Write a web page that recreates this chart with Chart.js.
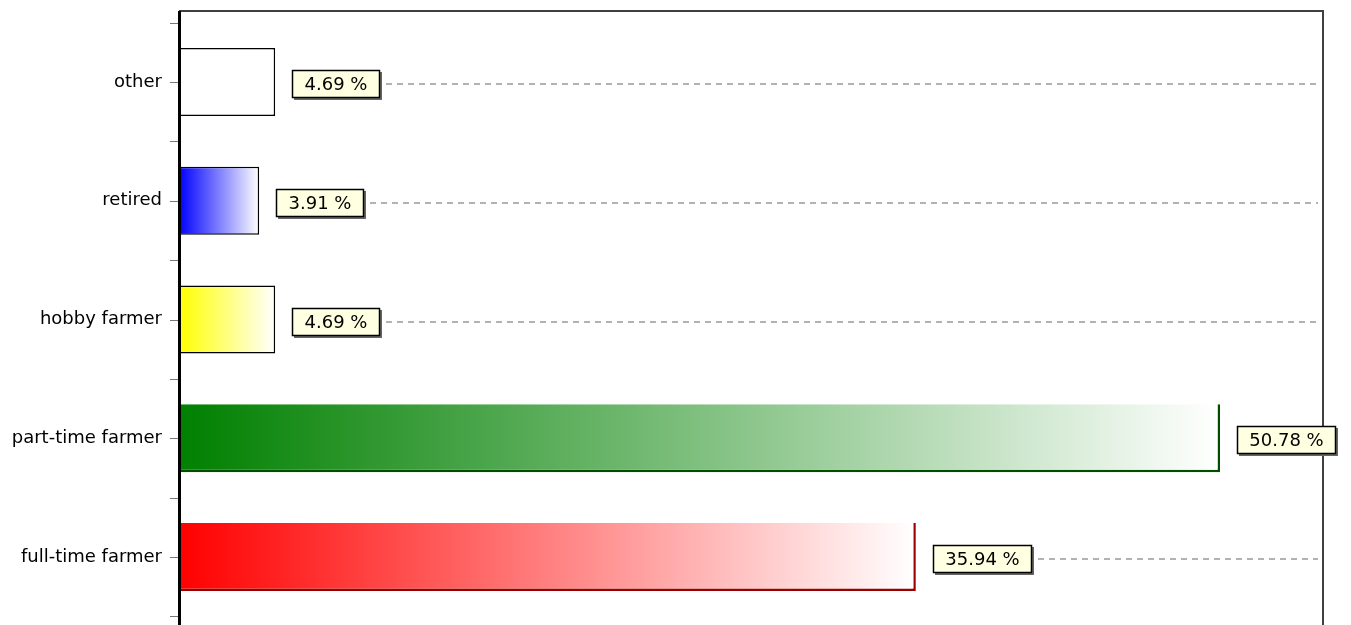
<!DOCTYPE html>
<html>
<head>
<meta charset="utf-8">
<script src="https://cdn.jsdelivr.net/npm/chart.js@4.4.1/dist/chart.umd.min.js"></script>
<style>
  html, body { margin: 0; padding: 0; background: #fff; overflow: hidden; }
  #wrap { width: 1351px; height: 625px; position: relative; }
</style>
</head>
<body>
<div id="wrap"><canvas id="myChart"></canvas></div>
<script>
const categories = ["other", "retired", "hobby farmer", "part-time farmer", "full-time farmer"];
const shares = [4.69, 3.91, 4.69, 50.78, 35.94];
const barColors = ["#ffffff", "#0000ff", "#ffff00", "#008000", "#ff0000"];
const edgeColors = ["#000000", "#000000", "#000000", "#004d00", "#9a0000"];
const xMax = 55.8;

const FONT = "DejaVu Sans";

// fades each bar from its colour to white at its own end
function fade(context) {
  const chart = context.chart;
  const i = context.dataIndex;
  if (!chart.chartArea || i === undefined) return barColors[i] || "#fff";
  const x = chart.scales.x;
  const x0 = x.getPixelForValue(0);
  const x1 = x.getPixelForValue(shares[i]);
  const g = chart.ctx.createLinearGradient(x0, 0, x1, 0);
  g.addColorStop(0, barColors[i]);
  g.addColorStop(1, "#ffffff");
  return g;
}

const framePlugin = {
  id: "frame",
  beforeDatasetsDraw(chart) {
    const { ctx, chartArea: a, scales: { y } } = chart;
    const top = a.top - 11.6;
    const bottom = a.bottom + 11.6;
    ctx.save();
    ctx.strokeStyle = "#404040";
    ctx.lineWidth = 2;
    ctx.beginPath();
    ctx.moveTo(a.left, top);
    ctx.lineTo(a.right, top);
    ctx.lineTo(a.right, bottom);
    ctx.stroke();
    // small ticks at band edges and centres
    const band = y.getPixelForValue(1) - y.getPixelForValue(0);
    ctx.strokeStyle = "#777";
    ctx.lineWidth = 1;
    ctx.beginPath();
    categories.forEach((c, i) => {
      const cy = y.getPixelForValue(i);
      [cy - band / 2, cy, cy + band / 2].forEach(t => {
        ctx.moveTo(a.left - 9, Math.round(t) + 0.5);
        ctx.lineTo(a.left, Math.round(t) + 0.5);
      });
    });
    ctx.stroke();
    ctx.restore();
  },
  afterDatasetsDraw(chart) {
    const { ctx, chartArea: a } = chart;
    ctx.save();
    ctx.strokeStyle = "#000";
    ctx.lineWidth = 3;
    ctx.beginPath();
    ctx.moveTo(a.left + 0.5, a.top - 11.6);
    ctx.lineTo(a.left + 0.5, a.bottom + 11.6);
    ctx.stroke();

    // value boxes
    const meta = chart.getDatasetMeta(0);
    ctx.font = "18px '" + FONT + "'";
    ctx.textAlign = "center";
    ctx.textBaseline = "middle";
    meta.data.forEach((bar, i) => {
      const txt = shares[i].toFixed(2) + " %";
      const w = Math.round(ctx.measureText(txt).width) + 25;
      const h = 28;
      const bx = Math.round(bar.x) + 17;
      const by = Math.round(bar.y) - 12;
      if (bx + w + 8 < a.right - 4) {
        ctx.strokeStyle = "#999";
        ctx.lineWidth = 1.5;
        ctx.setLineDash([6, 5]);
        ctx.beginPath();
        ctx.moveTo(bx + w + 6, by + h / 2);
        ctx.lineTo(a.right - 5, by + h / 2);
        ctx.stroke();
        ctx.setLineDash([]);
      }
      ctx.fillStyle = "#666";
      ctx.fillRect(bx + 2, by + 2, w, h);
      ctx.fillStyle = "#ffffe1";
      ctx.fillRect(bx, by, w, h);
      ctx.strokeStyle = "#000";
      ctx.lineWidth = 1.5;
      ctx.strokeRect(bx + 0.5, by + 0.5, w - 1, h - 1);
      ctx.fillStyle = "#000";
      ctx.fillText(txt, bx + w / 2, by + h / 2 + 1);
    });
    ctx.restore();
  }
};

const ctx = document.getElementById("myChart").getContext("2d");

const myChart = new Chart(ctx, {
  type: "bar",
  data: {
    labels: categories,
    datasets: [
      {
        data: shares,
        backgroundColor: fade,
        borderColor: edgeColors,
        borderWidth: [
          { top: 1.5, right: 1.5, bottom: 1.5, left: 1.5 },
          { top: 1.5, right: 1.5, bottom: 1.5, left: 1.5 },
          { top: 1.5, right: 1.5, bottom: 1.5, left: 1.5 },
          { top: 0, right: 2.5, bottom: 2.5, left: 0 },
          { top: 0, right: 2.5, bottom: 2.5, left: 0 },
        ],
        borderSkipped: false,
        barPercentage: 0.572,
        categoryPercentage: 1,
      },
    ],
  },
  plugins: [framePlugin],
  options: {
    indexAxis: "y",
    responsive: true,
    maintainAspectRatio: false,
    animation: false,
    layout: {
      padding: { left: 0, right: 28, top: 22.6, bottom: 8.6 },
    },
    scales: {
      x: {
        display: false,
        min: 0,
        max: xMax,
      },
      y: {
        afterFit: (scale) => {
          scale.width = 179;
          scale.paddingTop = 0;
          scale.paddingBottom = 0;
        },
        grid: { display: false, drawTicks: false },
        border: { display: false },
        ticks: {
          color: "#000",
          padding: 17,
          font: { family: FONT, size: 18 },
        },
      },
    },
    plugins: {
      legend: { display: false },
      tooltip: { enabled: false },
    },
  },
});
</script>
</body>
</html>
